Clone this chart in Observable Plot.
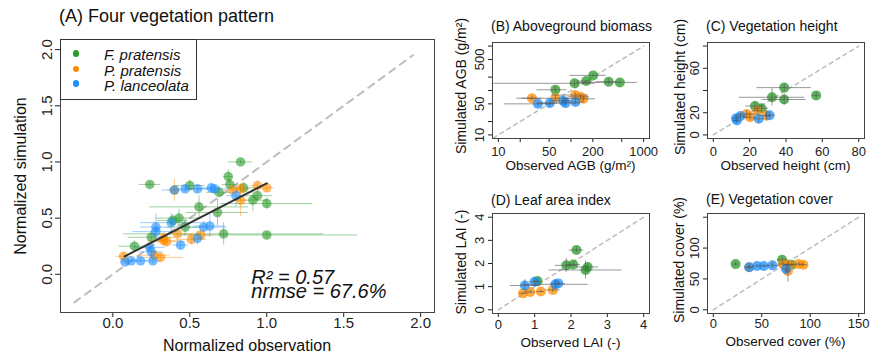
<!DOCTYPE html>
<html><head><meta charset="utf-8">
<script src="https://cdn.jsdelivr.net/npm/d3@7"></script>
<script src="https://cdn.jsdelivr.net/npm/@observablehq/plot@0.6"></script>
<style>
body{margin:0;background:#fff;font-family:"Liberation Sans",Arial,sans-serif;}
#root{position:relative;width:872px;height:360px;overflow:hidden;background:#fff;}
.p{position:absolute;}
.t{position:absolute;white-space:nowrap;line-height:1;color:#111;}
</style></head><body><div id="root"></div><script>
// ---------- data ----------
const species = ["F. pratensis", "P. pratensis", "P. lanceolata"];
const speciesColors = ["#2A9A2A", "#FF8C00", "#1E90FF"];

// (A) normalized observation / simulation
const aFpX  = [0.24,0.50,0.69,0.76,0.85,0.56,0.68,0.91,0.94,1.00,0.72,1.00,0.43,0.47,0.25,0.14,0.83,0.75,0.39];
const aFpY  = [0.80,0.79,0.73,0.80,0.77,0.60,0.55,0.66,0.70,0.63,0.36,0.35,0.50,0.42,0.33,0.25,1.00,0.87,0.48];
const aFpXe = [0.07,0.10,0.08,0.05,0.10,0.32,0.20,0.10,0.10,0.30,0.65,0.59,0.15,0.12,0.15,0.10,0.08,0.03,0.10];
const aFpYe = [0.02,0.05,0.05,0.05,0.05,0.10,0.12,0.10,0.05,0.05,0.10,0.03,0.08,0.08,0.06,0.05,0.02,0.06,0.05];
const aPpX  = [0.40,0.78,0.83,0.94,1.00,0.83,0.33,0.35,0.42,0.51,0.57,0.07,0.27,0.31,0.33];
const aPpY  = [0.75,0.75,0.76,0.79,0.77,0.66,0.30,0.29,0.36,0.31,0.35,0.16,0.17,0.15,0.32];
const aPpXe = [0.04,0.06,0.06,0.05,0.05,0.05,0.10,0.12,0.15,0.10,0.08,0.05,0.10,0.15,0.05];
const aPpYe = [0.10,0.04,0.04,0.04,0.04,0.15,0.05,0.05,0.10,0.05,0.05,0.03,0.04,0.04,0.05];
const aPlX  = [0.40,0.47,0.55,0.64,0.66,0.80,0.28,0.28,0.38,0.59,0.63,0.55,0.44,0.24,0.25,0.08,0.12,0.18,0.26];
const aPlY  = [0.75,0.76,0.76,0.77,0.76,0.70,0.42,0.38,0.46,0.42,0.43,0.32,0.26,0.24,0.20,0.11,0.12,0.12,0.12];
const aPlXe = [0.08,0.10,0.08,0.06,0.10,0.06,0.10,0.15,0.20,0.15,0.10,0.05,0.05,0.10,0.08,0.03,0.05,0.05,0.05];
const aPlYe = [0.03,0.03,0.03,0.03,0.03,0.10,0.12,0.05,0.08,0.05,0.10,0.06,0.04,0.03,0.05,0.02,0.02,0.02,0.03];
const aRegX = [0.077, 1.0];
const aRegY = [0.16, 0.81];
const aDiag = [-0.25, 1.95];
const aTicks = [0, 0.5, 1, 1.5, 2];
const aStatLabels = ["R\u00B2 = 0.57", "nrmse = 67.6%"];
const aStatX = [0.90, 0.90];
const aStatY = [-0.089, -0.207];

// (B) aboveground biomass (g/m2)
const bFpX = [61,112,162,202,330,471], bFpY = [104,145,163,219,158,152];
const bFpXe = [27,104,40,105,110,350], bFpYe = [15,25,10,15,20,12];
const bPpX = [29,61,114,135,148], bPpY = [67,67,79,72,65];
const bPpXe = [11,40,60,45,70], bPpYe = [8,10,12,8,8];
const bPlX = [35,51,78,84,115], bPlY = [50,52,59,52,55];
const bPlXe = [23,15,25,50,40], bPlYe = [8,10,12,10,8];
const bDiag = [8.5, 1000];
const bTicks = [10,20,50,100,200,500,1000];
const bXLabels = [10,50,200,1000];
const bYLabels = [10,50,500];

// (C) vegetation height (cm)
const cFpX = [39,32.3,39,56.6,22.9,26.5], cFpY = [42.6,33.9,31.9,35.6,26,24];
const cFpXe = [15,18,12,2,5,4], cFpYe = [3,8,5,3,4,3];
const cPpX = [18.4,20.2,24.2,29.2], cPpY = [18.8,15.9,21.7,17.4];
const cPpXe = [5,4,3,3], cPpYe = [3,3,3,5];
const cPlX = [13,15,12.5,25,31], cPlY = [13,17,15,14.5,17.7];
const cPlXe = [2,3,2,3,3], cPlYe = [3,3,3,4,2];
const cDiag = [0, 80];
const cTicks = [0,20,40,60,80];
const cXLabels = [0,20,40,60,80];
const cYLabels = [0,20,60];

// (D) leaf area index (-)
const dFpX = [2.15,1.87,2.06,2.40,2.46,1.08], dFpY = [2.58,1.92,1.96,1.72,1.85,1.24];
const dFpXe = [0.2,0.3,0.2,1.0,0.3,0.1], dFpYe = [0.1,0.3,0.1,0.4,0.15,0.1];
const dPpX = [0.68,0.88,1.17,1.50], dPpY = [0.71,0.77,0.79,0.86];
const dPpXe = [0.1,0.15,0.1,0.2], dPpYe = [0.05,0.08,0.05,0.1];
const dPlX = [0.73,1.00,1.57,1.65], dPlY = [1.05,1.21,1.10,1.14];
const dPlXe = [0.4,0.15,0.9,0.2], dPlYe = [0.25,0.1,0.2,0.1];
const dDiag = [0, 4];
const dTicks = [0,1,2,3,4];

// (E) vegetation cover (%)
const eFpX = [23,71,81], eFpY = [74,81,73];
const eFpXe = [3,5,5], eFpYe = [3,4,3];
const ePpX = [37,72,78,88,93,77], ePpY = [69,74,73,74,73,63];
const ePpXe = [3,5,5,5,4,3], ePpYe = [3,3,3,3,3,18];
const ePlX = [37,45,52,61,75], ePlY = [69,71,71,72,66];
const ePlXe = [4,5,4,8,4], ePlYe = [3,3,3,5,8];
const eDiag = [0, 150];
const eTicks = [0,50,100,150];
const eXLabels = [0,50,100,150];
const eYLabels = [0,50,100];

// ---------- helpers ----------
const root = document.getElementById("root");
const FONT = '"Liberation Sans", Arial, sans-serif';

function rows(sp, xs, ys, xes, yes) {
  return xs.map((x, i) => ({sp, x, y: ys[i], xe: xes[i], ye: yes[i]}));
}

function addText(str, o) {
  const el = document.createElement("div");
  el.className = "t";
  el.textContent = str;
  el.style.fontSize = o.size + "px";
  if (o.italic) el.style.fontStyle = "italic";
  if (o.rotate) {
    el.style.left = o.cx + "px";
    el.style.top = o.cy + "px";
    el.style.transform = "translate(-50%,-50%) rotate(-90deg)";
  } else {
    el.style.top = (o.baseline - 0.8465 * o.size) + "px";
    el.style.left = o.x + "px";
    if (o.anchor === "middle") el.style.transform = "translateX(-50%)";
  }
  root.appendChild(el);
}

function makePanel(p) {
  const [fx0, fy0, fx1, fy1] = p.frame;
  const data = p.series.flatMap(s => rows(...s));
  const [xmin, xmax] = p.xDomain, [ymin, ymax] = p.yDomain;
  const ruleOpts = p.colorBars
    ? {stroke: "sp", strokeOpacity: 0.45, strokeWidth: 1}
    : {stroke: "#555", strokeOpacity: 0.6, strokeWidth: 1};
  const bars = [
    Plot.ruleY(data, {y: "y", x1: d => Math.max(d.x - d.xe, xmin), x2: d => Math.min(d.x + d.xe, xmax), ...ruleOpts}),
    Plot.ruleX(data, {x: "x", y1: d => Math.max(d.y - d.ye, ymin), y2: d => Math.min(d.y + d.ye, ymax), ...ruleOpts})
  ];
  const dots = Plot.dot(data, {x: "x", y: "y", r: p.r, fill: "sp", fillOpacity: p.opacity});
  const marks = [
    Plot.line(p.diag, {x: d => d, y: d => d, stroke: "#BDBDBD", strokeWidth: p.diagWidth, strokeDasharray: p.dash}),
    ...(p.colorBars ? [...bars, dots] : [dots, ...bars]),
    ...(p.extra || []),
    Plot.axisX({ticks: p.xTicks, tickFormat: p.xFmt, tickSize: p.tickSize, tickPadding: p.xPad, fontSize: p.tickFont, label: null}),
    Plot.axisY({ticks: p.yTicks, tickFormat: p.yFmt, tickSize: p.tickSize, tickPadding: p.yPad, tickRotate: -90,
      textAnchor: "middle", lineAnchor: "bottom", fontSize: p.tickFont, label: null}),
    Plot.frame({stroke: "#444"})
  ];
  const svg = Plot.plot({
    width: p.width, height: p.height,
    marginLeft: fx0 - p.left, marginRight: p.left + p.width - fx1,
    marginTop: fy0 - p.top, marginBottom: p.top + p.height - fy1,
    x: {type: p.type || "linear", domain: p.xDomain},
    y: {type: p.type || "linear", domain: p.yDomain},
    color: {domain: species, range: speciesColors},
    style: {fontFamily: FONT, color: "#222", background: "transparent", overflow: "visible"},
    marks
  });
  svg.classList.add("p");
  svg.style.left = p.left + "px";
  svg.style.top = p.top + "px";
  root.appendChild(svg);
}

const only = labels => d => labels.includes(d) ? String(d) : "";

// ---------- panel A ----------
makePanel({
  left: 0, top: 30, width: 440, height: 330, frame: [60, 39, 434, 312],
  xDomain: [-0.34, 2.09], yDomain: [-0.34, 2.09],
  series: [[species[0], aFpX, aFpY, aFpXe, aFpYe], [species[1], aPpX, aPpY, aPpXe, aPpYe], [species[2], aPlX, aPlY, aPlXe, aPlYe]],
  colorBars: true, r: 4.8, opacity: 0.6, diag: aDiag, diagWidth: 2, dash: "7,6",
  xTicks: aTicks, yTicks: aTicks, xFmt: d3.format(".1f"), yFmt: d3.format(".1f"),
  tickSize: 5, xPad: 0, yPad: 4, tickFont: 15,
  extra: [
    Plot.line(aRegX, {x: d => d, y: (d, i) => aRegY[i], stroke: "#333", strokeWidth: 2}),
    Plot.text(aStatLabels, {x: (d, i) => aStatX[i], y: (d, i) => aStatY[i], text: d => d, textAnchor: "start",
      lineAnchor: "bottom", fontSize: 20, fontStyle: "italic", fill: "#111"})
  ]
});

// ---------- panel B ----------
makePanel({
  left: 440, top: 30, width: 220, height: 150, frame: [492, 42, 649, 138], type: "log",
  xDomain: [8.3, 1205], yDomain: [8.3, 1205],
  series: [[species[0], bFpX, bFpY, bFpXe, bFpYe], [species[1], bPpX, bPpY, bPpXe, bPpYe], [species[2], bPlX, bPlY, bPlXe, bPlYe]],
  r: 5, opacity: 0.75, diag: bDiag, diagWidth: 1.5, dash: "4,4",
  xTicks: bTicks, yTicks: bTicks, xFmt: only(bXLabels), yFmt: only(bYLabels),
  tickSize: 4, xPad: 4, yPad: 5, tickFont: 13
});

// ---------- panel C ----------
makePanel({
  left: 660, top: 30, width: 212, height: 150, frame: [707, 42, 864, 138],
  xDomain: [-3.2, 83.2], yDomain: [-3.2, 83.2],
  series: [[species[0], cFpX, cFpY, cFpXe, cFpYe], [species[1], cPpX, cPpY, cPpXe, cPpYe], [species[2], cPlX, cPlY, cPlXe, cPlYe]],
  r: 5, opacity: 0.75, diag: cDiag, diagWidth: 1.5, dash: "4,4",
  xTicks: cTicks, yTicks: cTicks, xFmt: only(cXLabels), yFmt: only(cYLabels),
  tickSize: 4, xPad: 4, yPad: 5, tickFont: 13
});

// ---------- panel D ----------
makePanel({
  left: 440, top: 190, width: 220, height: 170, frame: [492, 213, 649, 313],
  xDomain: [-0.16, 4.16], yDomain: [-0.16, 4.16],
  series: [[species[0], dFpX, dFpY, dFpXe, dFpYe], [species[1], dPpX, dPpY, dPpXe, dPpYe], [species[2], dPlX, dPlY, dPlXe, dPlYe]],
  r: 5, opacity: 0.75, diag: dDiag, diagWidth: 1.5, dash: "4,4",
  xTicks: dTicks, yTicks: dTicks, xFmt: d => String(d), yFmt: d => String(d),
  tickSize: 4, xPad: 2, yPad: 5, tickFont: 13
});

// ---------- panel E ----------
makePanel({
  left: 660, top: 190, width: 212, height: 170, frame: [707, 213, 864, 313],
  xDomain: [-6, 156], yDomain: [-6, 156],
  series: [[species[0], eFpX, eFpY, eFpXe, eFpYe], [species[1], ePpX, ePpY, ePpXe, ePpYe], [species[2], ePlX, ePlY, ePlXe, ePlYe]],
  r: 5, opacity: 0.75, diag: eDiag, diagWidth: 1.5, dash: "4,4",
  xTicks: eTicks, yTicks: eTicks, xFmt: only(eXLabels), yFmt: only(eYLabels),
  tickSize: 4, xPad: 1, yPad: 5, tickFont: 13
});

// ---------- titles and axis titles ----------
addText("(A) Four vegetation pattern", {x: 59, baseline: 22.7, size: 18});
addText("Normalized observation", {x: 247, baseline: 351.5, size: 16, anchor: "middle"});
addText("Normalized simulation", {rotate: true, cx: 20.5, cy: 175.5, size: 16});

addText("(B) Aboveground biomass", {x: 491, baseline: 30.7, size: 14});
addText("Observed AGB (g/m\u00B2)", {x: 570.5, baseline: 170.7, size: 13.5, anchor: "middle"});
addText("Simulated AGB (g/m\u00B2)", {rotate: true, cx: 461, cy: 86, size: 14});

addText("(C) Vegetation height", {x: 706, baseline: 30.7, size: 14});
addText("Observed height (cm)", {x: 785.5, baseline: 170.5, size: 13.5, anchor: "middle"});
addText("Simulated height (cm)", {rotate: true, cx: 680, cy: 87, size: 14});

addText("(D) Leaf area index", {x: 491, baseline: 204.5, size: 14});
addText("Observed LAI (-)", {x: 570.5, baseline: 347, size: 13.5, anchor: "middle"});
addText("Simulated LAI (-)", {rotate: true, cx: 461, cy: 262, size: 14});

addText("(E) Vegetation cover", {x: 706, baseline: 204, size: 14});
addText("Observed cover (%)", {x: 785.5, baseline: 346, size: 13.5, anchor: "middle"});
addText("Simulated cover (%)", {rotate: true, cx: 679, cy: 260, size: 14});

// ---------- legend for panel A ----------
const lg = document.createElement("div");
lg.style.cssText = "position:absolute;left:60px;top:39px;width:137px;height:61px;border:1px solid #333;box-sizing:border-box;background:#fff;";
root.appendChild(lg);
const legendDotY = [53.3, 69, 83.5];
const legendBase = [60, 75.5, 90.8];
species.forEach((s, i) => {
  const dot = document.createElement("div");
  dot.style.cssText = `position:absolute;left:${76 - 3.4}px;top:${legendDotY[i] - 3.4}px;width:6.8px;height:6.8px;border-radius:50%;background:${speciesColors[i]};`;
  root.appendChild(dot);
  addText(s, {x: 104, baseline: legendBase[i], size: 15, italic: true});
});
</script></body></html>
